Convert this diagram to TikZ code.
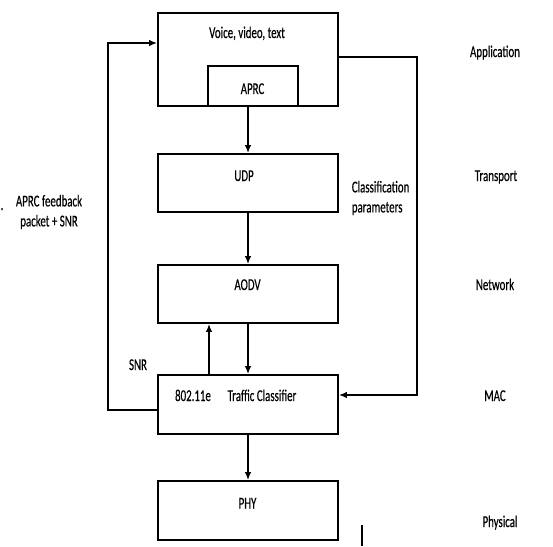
\documentclass[tikz,border=0pt]{standalone}
\usepackage{fontspec}
\setmainfont[FakeStretch=0.66, FakeBold=0.4]{Carlito}
\usetikzlibrary{arrows.meta}
\tikzset{>={Latex[length=8pt,width=6.5pt]}}

\begin{document}
\begin{tikzpicture}[x=1pt, y=-1pt, line width=1.7pt,
    box/.style={draw, minimum width=180pt, inner sep=0pt},
    lbl/.style={font=\fontsize{16.5}{21}\selectfont, inner sep=0pt, text height=11pt, text depth=3pt},
    twolbl/.style={font=\fontsize{16.5}{20}\selectfont, inner sep=0pt}]
  \useasboundingbox (0,0) rectangle (553,546);
  % layer boxes
  \node[box, minimum height=93pt] (app) at (248,59.5) {};
  \node[draw, minimum width=90pt, minimum height=40pt, inner sep=0pt] (aprc) at (253,86) {};
  \node[box, minimum height=58pt] (udp) at (248,183) {};
  \node[box, minimum height=58pt] (aodv) at (248,294) {};
  \node[box, minimum height=59pt] (mac) at (248,404.5) {};
  \node[box, minimum height=59pt] (phy) at (248,510.5) {};
  % texts in the boxes
  \node[lbl] (apptxt) at (247,34) {Voice, video, text};
  \node[lbl] (aprctxt) at (252.5,90) {APRC};
  \node[lbl] (udptxt) at (244,177) {UDP};
  \node[lbl] (aodvtxt) at (247.5,286) {AODV};
  \node[lbl] (mactxt) at (193,397) {802.11e};
  \node[lbl] (tctxt) at (262,397) {Traffic Classifier};
  \node[lbl] (phytxt) at (247.5,504.5) {PHY};
  % side texts
  \node[twolbl, align=center] (fbtxt) at (49,212) {APRC feedback\\packet + SNR};
  \node[twolbl, anchor=base] (dot) at (2,210) {.};
  \node[twolbl, align=left, anchor=west] (cptxt) at (351,198) {Classification\\parameters};
  \node[lbl] (snrtxt) at (138,366) {SNR};
  % layer names
  \node[lbl] (lapp) at (495,53) {Application};
  \node[lbl] (ltra) at (496,177) {Transport};
  \node[lbl] (lnet) at (495,286) {Network};
  \node[lbl] (lmac) at (495,397) {MAC};
  \node[lbl] (lphy) at (500,523) {Physical};
  % arrows down the stack
  \draw[->] (app.south) -- (udp.north);
  \draw[->] (udp.south) -- (aodv.north);
  \draw[->] (aodv.south) -- (mac.north);
  \draw[->] ([xshift=-39pt]mac.north) -- ([xshift=-39pt]aodv.south);
  \draw[->] (mac.south) -- (phy.north);
  % feedback loops
  \draw[->] ([yshift=-5.5pt]mac.west) -- ++(-49,0) |- ([yshift=16.5pt]app.west);
  \draw[->] ([yshift=2.5pt]app.east) -- ++(78,0) |- ([yshift=9.5pt]mac.east);
  % cursor mark
  \draw (362,525) -- (362,546);
\end{tikzpicture}
\end{document}
